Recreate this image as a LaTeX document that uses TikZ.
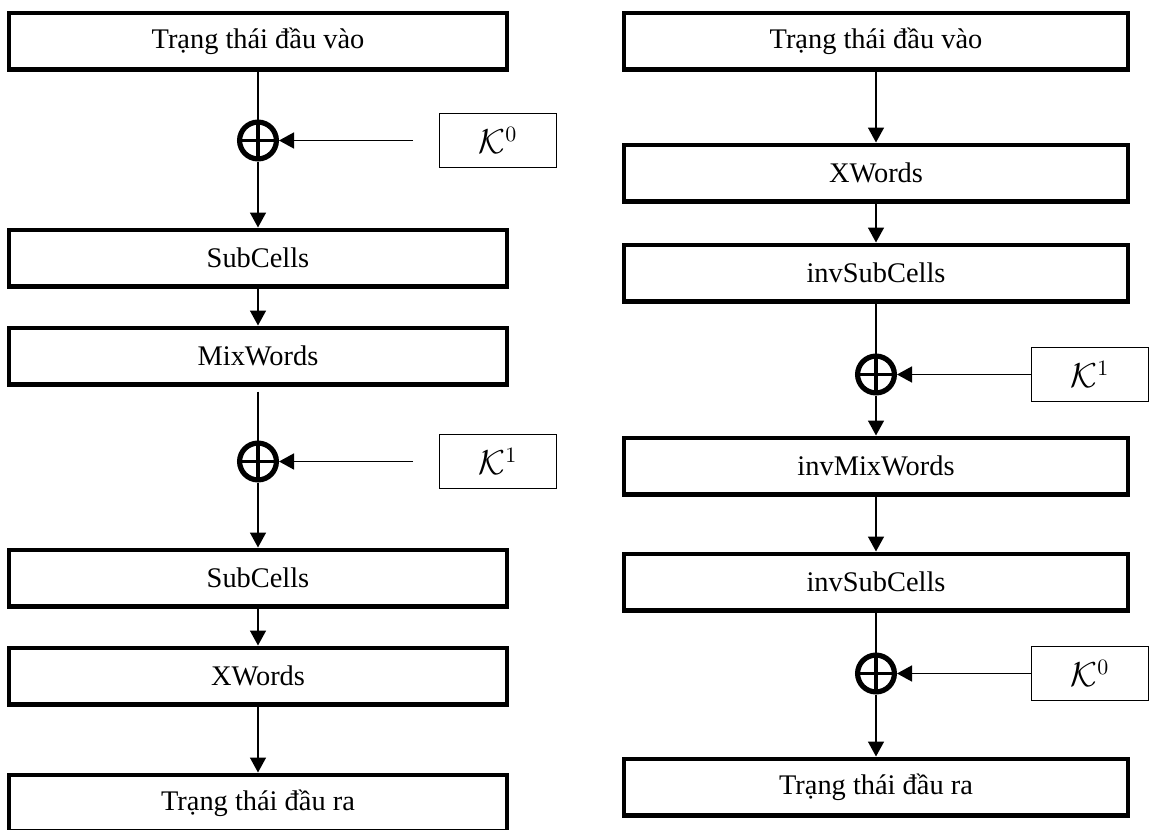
\documentclass[tikz,border=0pt]{standalone}
\usepackage{fontspec}
\setmainfont{Liberation Serif}
\usepackage{amsmath}
\usetikzlibrary{positioning}
\usetikzlibrary{arrows.meta}

\begin{document}
\begin{tikzpicture}
        [x=0.5pt,y=-0.5pt,
        font=\fontsize{14.2}{16}\selectfont,
        block/.style={draw,rectangle,line width=2.4pt,minimum width=249pt,minimum height=28.1pt,inner sep=0pt},
        keybox/.style={draw,rectangle,line width=0.6pt,minimum width=58.4pt,minimum height=26.9pt,inner sep=0pt,
          font=\fontsize{16}{18}\selectfont},
        xorop/.style={draw,circle,line width=2.6pt,minimum size=18.4pt,inner sep=0pt,
          path picture={\draw[line width=1.7pt]
            (path picture bounding box.north) -- (path picture bounding box.south)
            (path picture bounding box.west) -- (path picture bounding box.east);}},
        arr/.style={-{Triangle[width=8pt,length=7.5pt]}}]
        \useasboundingbox (0,0) rectangle (1152,830);

        % left column
        \node[block]  (inL)  at (258,41) {Trạng thái đầu vào};
        \node[xorop]  (xorL0) [below=24pt of inL] {};
        \node[keybox] (kL0)  [right=80pt of xorL0] {$\mathcal{K}^{0}$};
        \node[block]  (scL1) [below=33pt of xorL0] {SubCells};
        \node[block]  (mwL)  [below=18.5pt of scL1] {MixWords};
        \node[xorop]  (xorL1) [below=27pt of mwL] {};
        \node[keybox] (kL1)  [right=80pt of xorL1] {$\mathcal{K}^{1}$};
        \node[block]  (scL2) [below=32.5pt of xorL1] {SubCells};
        \node[block]  (xwL)  [below=18.5pt of scL2] {XWords};
        \node[block]  (outL) [below=33pt of xwL] {Trạng thái đầu ra};

        % right column
        \node[block,minimum width=252pt]  (inR)  at (876,41) {Trạng thái đầu vào};
        \node[block,minimum width=252pt]  (xwR)  [below=35.5pt of inR] {XWords};
        \node[block,minimum width=252pt]  (iscR1) [below=19.5pt of xwR] {invSubCells};
        \node[xorop]  (xorR1) [below=25pt of iscR1] {};
        \node[keybox] (kR1)  [right=67pt of xorR1] {$\mathcal{K}^{1}$};
        \node[block,minimum width=252pt]  (imwR) [below=20pt of xorR1] {invMixWords};
        \node[block,minimum width=252pt]  (iscR2) [below=27.5pt of imwR] {invSubCells};
        \node[xorop]  (xorR0) [below=20pt of iscR2] {};
        \node[keybox] (kR0)  [right=67pt of xorR0] {$\mathcal{K}^{0}$};
        \node[block,minimum width=252pt]  (outR) [below=31pt of xorR0] {Trạng thái đầu ra};

        \path [line width=0.8pt]
        (inL) edge (xorL0)
        (kL0) edge [arr,shorten <=13pt] (xorL0)
        (xorL0) edge [arr] (scL1)
        (scL1) edge [arr] (mwL)
        (mwL) edge [shorten <=2.5pt] (xorL1)
        (kL1) edge [arr,shorten <=13pt] (xorL1)
        (xorL1) edge [arr] (scL2)
        (scL2) edge [arr] (xwL)
        (xwL) edge [arr] (outL)

        (inR) edge [arr] (xwR)
        (xwR) edge [arr] (iscR1)
        (iscR1) edge (xorR1)
        (kR1) edge [arr] (xorR1)
        (xorR1) edge [arr] (imwR)
        (imwR) edge [arr] (iscR2)
        (iscR2) edge (xorR0)
        (kR0) edge [arr] (xorR0)
        (xorR0) edge [arr] (outR);
\end{tikzpicture}
\end{document}
